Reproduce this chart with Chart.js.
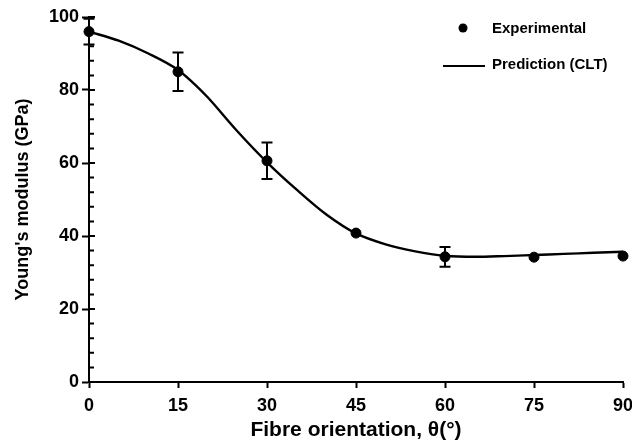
<!DOCTYPE html>
<html>
<head>
<meta charset="utf-8">
<script src="https://cdn.jsdelivr.net/npm/chart.js@4.4.1/dist/chart.umd.min.js"></script>
<style>
  html, body { margin: 0; padding: 0; background: #fff; }
  canvas { display: block; }
</style>
</head>
<body>
<canvas id="chart" width="632" height="448"></canvas>
<script>
// measured points
const angles = [0, 15, 30, 45, 60, 75, 90];
const measured = [96, 85, 60.6, 40.8, 34.3, 34.2, 34.5];
const measuredErr = [3.5, 5.3, 5, 0, 2.7, 0, 0];

// laminate theory curve
const cltAngles = [0, 5, 10, 15, 18, 20, 25, 30, 35, 40, 45, 50, 55, 60, 65, 70, 75, 80, 85, 90];
const cltModulus = [96, 93.5, 90, 85.5, 81.3, 78, 68.7, 60.2, 52.7, 45.9, 40.7, 37.7, 35.8, 34.6, 34.3, 34.5, 34.8, 35.1, 35.4, 35.7];

const xTicks = [0, 15, 30, 45, 60, 75, 90];
const yTicks = [0, 20, 40, 60, 80, 100];
const yMinorStep = 4;

const FONT = "'Liberation Sans', Arial, Helvetica, sans-serif";

// error bars, minor ticks and the legend box
const extras = {
  id: 'extras',
  afterDatasetsDraw(chart) {
    const ctx = chart.ctx;
    const xs = chart.scales.x, ys = chart.scales.y;
    ctx.save();
    ctx.strokeStyle = '#000';
    ctx.lineWidth = 2;
    // error bars
    angles.forEach((a, i) => {
      const e = measuredErr[i];
      if (!e) return;
      const px = xs.getPixelForValue(a);
      const top = ys.getPixelForValue(measured[i] + e);
      const bot = ys.getPixelForValue(measured[i] - e);
      ctx.beginPath();
      ctx.moveTo(px, top); ctx.lineTo(px, bot);
      ctx.moveTo(px - 5.5, top); ctx.lineTo(px + 5.5, top);
      ctx.moveTo(px - 5.5, bot); ctx.lineTo(px + 5.5, bot);
      ctx.stroke();
    });
    // y ticks on the inner side
    const left = chart.chartArea.left;
    ctx.beginPath();
    for (let v = 0; v <= 100; v += yMinorStep) {
      const py = ys.getPixelForValue(v);
      ctx.moveTo(left, py); ctx.lineTo(left + 5, py);
    }
    yTicks.forEach(v => {
      const py = ys.getPixelForValue(v);
      ctx.moveTo(left, py); ctx.lineTo(left + 6, py);
    });
    ctx.stroke();

    // legend
    ctx.fillStyle = '#000';
    ctx.font = 'bold 15px ' + FONT;
    ctx.textBaseline = 'middle';
    ctx.textAlign = 'left';
    ctx.beginPath();
    ctx.arc(463, 28, 4.5, 0, Math.PI * 2);
    ctx.fill();
    ctx.fillText(chart.data.datasets[1].label, 492, 29);
    ctx.lineWidth = 2.2;
    ctx.beginPath();
    ctx.moveTo(443, 66); ctx.lineTo(485, 66);
    ctx.stroke();
    ctx.fillText(chart.data.datasets[0].label, 492, 65);
    ctx.restore();
  }
};

new Chart(document.getElementById('chart'), {
  type: 'scatter',
  data: {
    datasets: [
      {
        label: 'Prediction (CLT)',
        data: cltAngles.map((a, i) => ({ x: a, y: cltModulus[i] })),
        showLine: true,
        borderColor: '#000',
        borderWidth: 2.4,
        pointRadius: 0,
        cubicInterpolationMode: 'monotone',
        clip: false
      },
      {
        label: 'Experimental',
        data: angles.map((a, i) => ({ x: a, y: measured[i] })),
        backgroundColor: '#000',
        borderColor: '#000',
        pointRadius: 5,
        pointHoverRadius: 5,
        clip: false
      }
    ]
  },
  options: {
    responsive: false,
    animation: false,
    layout: { padding: { left: 0, top: 17, right: 0, bottom: 0 } },
    plugins: { legend: { display: false }, tooltip: { enabled: false } },
    scales: {
      x: {
        type: 'linear',
        min: 0, max: 90,
        afterBuildTicks: s => { s.ticks = xTicks.map(v => ({ value: v })); },
        afterFit: s => { s.height = 66; s.paddingRight = 9; s.paddingLeft = 0; },
        ticks: { color: '#000', font: { family: FONT, size: 18, weight: 'bold' }, padding: 7, maxRotation: 0 },
        grid: { drawOnChartArea: false, drawTicks: true, tickLength: 6, tickWidth: 2, color: '#000' },
        border: { display: true, color: '#000', width: 2 },
        title: {
          display: true,
          text: 'Fibre orientation, θ(°)',
          color: '#000',
          font: { family: FONT, size: 21, weight: 'bold' },
          padding: { top: 0, bottom: 5 }
        }
      },
      y: {
        min: 0, max: 100,
        afterBuildTicks: s => { s.ticks = yTicks.map(v => ({ value: v })); },
        afterFit: s => { s.width = 89; },
        ticks: { color: '#000', font: { family: FONT, size: 18, weight: 'bold' }, padding: 3 },
        grid: { drawOnChartArea: false, drawTicks: true, tickLength: 7, tickWidth: 2, color: '#000' },
        border: { display: true, color: '#000', width: 2 },
        title: {
          display: true,
          text: "Young's modulus (GPa)",
          color: '#000',
          font: { family: FONT, size: 18, weight: 'bold' },
          padding: { top: 12, bottom: 0 }
        }
      }
    }
  },
  plugins: [extras]
});
</script>
</body>
</html>
